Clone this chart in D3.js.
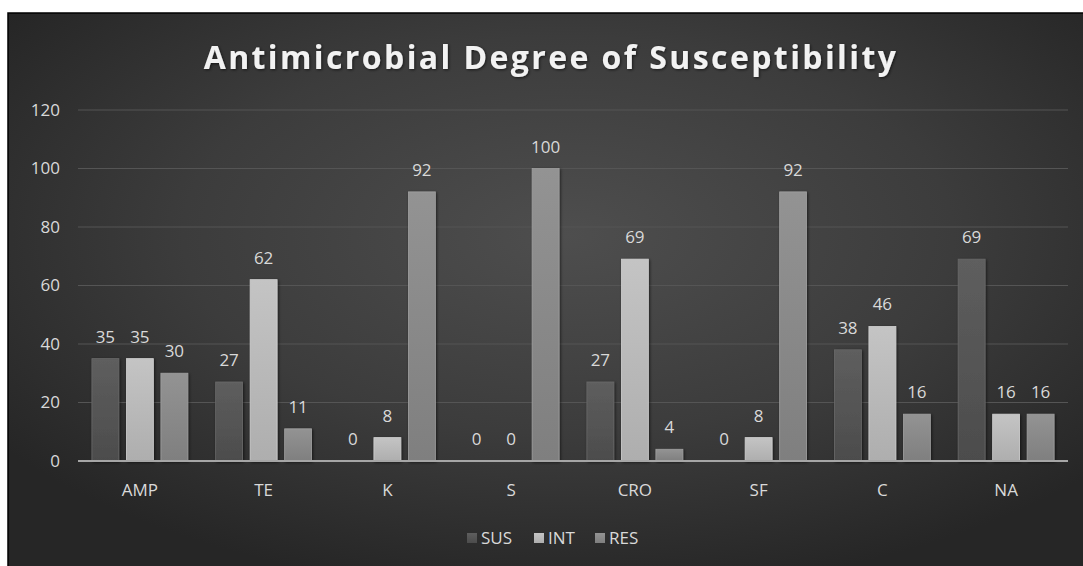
<!DOCTYPE html>
<html>
<head>
<meta charset="utf-8">
<script src="https://cdn.jsdelivr.net/npm/d3@7"></script>
<style>
  body { margin: 0; background: #fff; }
  text { font-family: "Open Sans", "Noto Sans", sans-serif; }
</style>
</head>
<body>
<div class="chart"></div>
<script>
const categories = ['AMP', 'TE', 'K', 'S', 'CRO', 'SF', 'C', 'NA'];
const seriesNames = ['SUS', 'INT', 'RES'];
const sus = [35, 27, 0, 0, 27, 0, 38, 69];
const int = [35, 62, 8, 0, 69, 8, 46, 16];
const res = [30, 11, 92, 100, 4, 92, 16, 16];
const yTicks = [0, 20, 40, 60, 80, 100, 120];

const W = 1083, H = 566;
const frame = {left: 8, top: 13};
const margin = {top: 110, right: 15, bottom: 105, left: 78};

const svg = d3.select('.chart')
  .append('svg')
    .attr('width', W)
    .attr('height', H);

const defs = svg.append('defs');

const bg = defs.append('radialGradient')
  .attr('id', 'bg').attr('cx', '52%').attr('cy', '40%').attr('r', '65%');
bg.append('stop').attr('offset', '0%').attr('stop-color', '#4e4e4e');
bg.append('stop').attr('offset', '55%').attr('stop-color', '#3c3c3c');
bg.append('stop').attr('offset', '100%').attr('stop-color', '#262626');

const fills = {SUS: ['#5e5e5e', '#4c4c4c'], INT: ['#c4c4c4', '#aeaeae'], RES: ['#939393', '#7f7f7f']};
seriesNames.forEach(s => {
  const g = defs.append('linearGradient').attr('id', 'g' + s)
    .attr('x1', 0).attr('y1', 0).attr('x2', 0).attr('y2', 1);
  g.append('stop').attr('offset', '0%').attr('stop-color', fills[s][0]);
  g.append('stop').attr('offset', '100%').attr('stop-color', fills[s][1]);
});

const shadow = defs.append('filter').attr('id', 'shadow')
  .attr('x', '-10%').attr('y', '-10%').attr('width', '130%').attr('height', '130%');
shadow.append('feDropShadow').attr('dx', 1).attr('dy', 1).attr('stdDeviation', 1.5)
  .attr('flood-color', '#000').attr('flood-opacity', 0.6);

// chart area
svg.append('rect')
  .attr('x', frame.left).attr('y', frame.top)
  .attr('width', W - frame.left + 2).attr('height', H - frame.top + 2)
  .attr('fill', 'url(#bg)')
  .attr('stroke', '#000').attr('stroke-width', 1.5);

const x0 = d3.scaleBand()
  .domain(categories)
  .range([margin.left, W - margin.right])
  .paddingInner(0.225)
  .paddingOuter(0.1125);

const x1 = d3.scaleBand()
  .domain(seriesNames)
  .range([0, x0.bandwidth()])
  .paddingInner(0.22);

const y = d3.scaleLinear()
  .domain([0, 120])
  .range([H - margin.bottom, margin.top]);

// grid
svg.append('g')
  .selectAll('line')
  .data(yTicks.filter(d => d > 0))
  .join('line')
    .attr('x1', margin.left).attr('x2', W - margin.right)
    .attr('y1', d => y(d)).attr('y2', d => y(d))
    .attr('stroke', '#555').attr('stroke-width', 1);

const yAxis = g => g
  .attr('transform', `translate(${margin.left - 10}, 0)`)
  .call(d3.axisLeft(y).tickValues(yTicks).tickSize(0).tickPadding(8))
  .call(g => g.select('.domain').remove())
  .call(g => g.selectAll('text')
    .attr('fill', '#d9d9d9').attr('font-size', '17px')
    .style('font-family', '"Open Sans", sans-serif'));
svg.append('g').call(yAxis);

const table = categories.map((c, i) => ({cat: c, SUS: sus[i], INT: int[i], RES: res[i]}));

const groups = svg.append('g')
  .selectAll('g')
  .data(table)
  .join('g')
    .attr('transform', d => `translate(${x0(d.cat)}, 0)`);

const bars = groups.selectAll('g')
  .data(d => seriesNames.map(s => ({key: s, value: d[s]})))
  .join('g');

bars.append('rect')
  .attr('x', d => x1(d.key))
  .attr('y', d => y(d.value))
  .attr('width', x1.bandwidth())
  .attr('height', d => y(0) - y(d.value))
  .attr('fill', d => `url(#g${d.key})`)
  .attr('stroke', d => d.value > 0 ? (d.key === 'INT' ? '#d0d0d0' : d.key === 'RES' ? '#a0a0a0' : '#6a6a6a') : 'none')
  .attr('stroke-width', 0.8)
  .attr('filter', 'url(#shadow)');

bars.append('text')
  .attr('x', d => x1(d.key) + x1.bandwidth() / 2)
  .attr('y', d => y(d.value) - 16)
  .attr('text-anchor', 'middle')
  .attr('fill', '#d9d9d9')
  .attr('font-size', '17px')
  .text(d => d.value);

// x axis
const xAxis = g => g
  .attr('transform', `translate(0, ${y(0)})`)
  .call(d3.axisBottom(x0).tickSize(0).tickPadding(23).tickSizeOuter(0))
  .call(g => g.select('.domain').attr('stroke', '#a6a6a6').attr('stroke-width', 2)
    .attr('d', `M${margin.left},0H${W - margin.right}`))
  .call(g => g.selectAll('text')
    .attr('fill', '#d9d9d9').attr('font-size', '17px')
    .style('font-family', '"Open Sans", sans-serif'));
svg.append('g').call(xAxis);

// title
svg.append('text')
  .attr('x', 551)
  .attr('y', 69)
  .attr('text-anchor', 'middle')
  .attr('font-size', '32px')
  .attr('font-weight', 'bold')
  .attr('letter-spacing', '2.4px')
  .attr('fill', '#f2f2f2')
  .attr('filter', 'url(#shadow)')
  .text('Antimicrobial Degree of Susceptibility');

// legend
const legendX = [467, 534, 595];
const legend = svg.append('g')
  .selectAll('g')
  .data(seriesNames)
  .join('g')
    .attr('transform', (d, i) => `translate(${legendX[i]}, 538)`);
legend.append('rect')
  .attr('x', 0).attr('y', -5).attr('width', 10).attr('height', 10)
  .attr('fill', d => `url(#g${d})`);
legend.append('text')
  .attr('x', 14).attr('y', 6)
  .attr('fill', '#d9d9d9')
  .attr('font-size', '17px')
  .text(d => d);
</script>
</body>
</html>
